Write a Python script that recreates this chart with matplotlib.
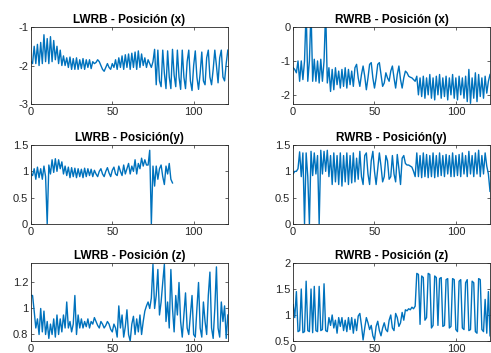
import numpy as np
import matplotlib
matplotlib.use('Agg')
import matplotlib.pyplot as plt

plt.rcParams['font.family'] = ['Liberation Sans', 'DejaVu Sans']

# ---------------- data (one sample per unit) ----------------
lwrb_x = [-1.9, -1.95, -1.5, -1.95, -1.45, -2.0, -1.4, -1.95, -1.2, -1.9,
          -1.3, -1.95, -1.25, -1.9, -1.35, -1.85, -1.5, -1.95, -1.6, -2.0,
          -1.75, -2.0, -1.8, -2.05, -1.78, -2.1, -1.82, -2.1, -1.8, -2.1,
          -1.85, -2.08, -1.82, -2.1, -1.85, -2.05, -1.85, -2.08, -1.9, -1.95,
          -1.92, -1.85, -1.9, -2.0, -2.1, -2.15, -2.05, -1.95, -2.05, -2.1,
          -1.95, -2.05, -1.85, -2.1, -1.8, -2.05, -1.75, -2.1, -1.72, -2.05,
          -1.7, -2.1, -1.68, -2.05, -1.65, -2.1, -1.62, -2.05, -1.7, -2.0,
          -1.8, -2.05, -1.85, -1.95, -2.05, -1.9, -1.58, -2.5, -1.6, -2.4,
          -2.55, -1.6, -2.2, -2.6, -1.62, -2.3, -2.6, -1.58, -2.25, -2.55,
          -1.6, -2.3, -2.62, -1.6, -2.3, -2.6, -1.9, -1.6, -2.4, -2.65,
          -2.0, -1.62, -2.3, -2.62, -2.2, -1.65, -2.4, -2.5, -1.8, -1.6,
          -2.3, -2.5, -2.1, -1.6, -2.0, -2.45, -1.8, -1.6, -2.3, -2.4,
          -1.95, -1.6]

rwrb_x = [-1.2, -1.25, -1.35, -1.0, -1.6, -1.0, -1.55, -1.0, 0.5, -1.6,
          -1.0, 0.5, -1.6, -0.95, -1.6, -1.0, -1.65, -0.95, -1.6, -1.0,
          0.5, -1.65, -1.2, -1.9, -1.25, -1.85, -1.2, -1.7, -1.3, -1.8,
          -1.25, -1.75, -1.2, -1.8, -1.25, -1.7, -1.3, -1.75, -1.2, -1.1,
          -1.5, -1.75, -1.4, -1.15, -1.45, -1.85, -1.5, -1.1, -1.05, -1.5,
          -1.8, -1.5, -1.1, -1.05, -1.4, -1.75, -1.65, -1.35, -1.5, -1.6,
          -1.3, -1.15, -1.5, -1.8, -1.4, -1.15, -1.55, -1.8, -1.5, -1.3,
          -1.35, -1.45, -1.48, -1.5, -1.55, -1.6, -1.45, -2.0, -1.5, -2.05,
          -1.45, -2.1, -1.5, -2.0, -1.4, -2.1, -1.5, -2.15, -1.45, -2.0,
          -1.4, -2.1, -1.5, -2.05, -1.45, -2.15, -1.5, -2.0, -1.4, -2.1,
          -1.5, -2.15, -1.45, -2.0, -1.5, -2.1, -1.45, -2.2, -1.25, -2.25,
          -1.5, -2.1, -1.35, -2.2, -1.4, -2.05, -1.5, -2.1, -1.45, -1.95,
          -1.6, -1.4]

lwrb_y = [0.95, 0.92, 1.05, 0.85, 1.08, 0.88, 1.05, 0.85, 1.1, 0.9,
          0.0, 1.12, 0.95, 1.22, 0.98, 1.24, 1.0, 1.22, 1.05, 1.18,
          0.95, 1.1, 0.92, 1.08, 0.88, 1.07, 0.9, 1.06, 0.88, 1.05,
          0.9, 1.04, 0.88, 1.06, 0.9, 1.05, 0.92, 1.04, 0.9, 1.02,
          0.95, 0.9, 1.0, 1.05, 0.95, 0.9, 1.0, 1.07, 0.97, 0.9,
          1.02, 1.08, 0.95, 0.92, 1.1, 1.0, 0.92, 1.12, 0.95, 1.05,
          1.15, 0.95, 1.1, 1.0, 1.22, 0.95, 1.15, 1.05, 1.25, 1.1,
          1.22, 1.12, 1.12, 1.4, 0.0, 1.1, 0.72, 1.1, 0.85, 1.05,
          1.12, 0.9, 0.75, 1.1, 0.95, 1.15, 0.85, 0.78]

rwrb_y = [0.95, 1.0, 1.0, 1.05, 1.37, 0.9, 1.35, 0.0, 1.35, 0.9,
          0.0, 1.38, 0.92, 1.35, 0.95, 1.3, 0.0, 1.4, 0.95, 1.38,
          1.0, 1.4, 0.9, 1.3, 0.75, 1.35, 0.8, 1.3, 0.75, 1.35,
          0.72, 1.3, 0.8, 1.35, 0.75, 1.3, 0.78, 1.35, 0.8, 1.25,
          0.85, 1.38, 0.9, 0.75, 1.3, 1.35, 0.95, 0.75, 1.2, 1.38,
          1.0, 0.75, 1.05, 1.35, 1.1, 0.8, 0.9, 1.3, 1.2, 0.85,
          0.9, 1.3, 0.95, 0.8, 1.32, 1.05, 0.75, 1.25, 1.3, 1.15,
          1.12, 1.12, 1.1, 1.08, 1.0, 0.9, 1.35, 0.9, 1.3, 0.88,
          1.35, 0.9, 1.32, 0.88, 1.3, 0.9, 1.35, 0.88, 1.3, 0.9,
          1.35, 0.92, 1.3, 0.9, 1.32, 0.95, 1.3, 0.9, 1.35, 0.9,
          1.3, 0.92, 1.32, 0.9, 1.35, 0.95, 1.3, 0.9, 1.38, 0.95,
          1.3, 0.9, 1.35, 0.95, 1.4, 0.9, 1.3, 0.95, 1.35, 1.1,
          0.95, 0.62]

lwrb_z = [1.1, 1.1, 0.98, 0.85, 0.92, 0.8, 1.0, 0.82, 0.98, 0.8,
          0.9, 0.77, 0.88, 0.8, 0.92, 0.78, 0.95, 0.8, 0.92, 0.82,
          0.95, 0.85, 1.05, 0.85, 0.9, 0.82, 0.88, 1.1, 0.8, 0.95,
          0.85, 0.92, 0.85, 0.9, 0.86, 0.92, 0.85, 0.9, 0.88, 0.93,
          0.9, 0.87, 0.85, 0.9, 0.88, 0.85, 0.87, 0.9, 0.88, 0.84,
          0.82, 0.88, 0.85, 0.78, 1.02, 0.85, 0.95, 0.78, 0.86, 0.99,
          0.8, 0.75, 0.88, 0.94, 0.8, 0.92, 0.82, 0.95, 0.8, 0.9,
          0.98, 1.02, 1.05, 1.0, 1.08, 1.34, 1.0, 1.1, 1.3, 0.95,
          1.05, 1.2, 1.34, 0.9, 1.05, 0.85, 1.3, 1.0, 0.82, 1.1,
          0.95, 1.2, 0.9, 0.78, 0.95, 1.12, 0.85, 0.8, 0.95, 1.1,
          0.8, 0.78, 1.0, 1.2, 0.85, 0.78, 1.05, 0.9, 0.8, 1.1,
          1.28, 0.85, 0.77, 1.0, 1.32, 0.85, 0.78, 1.05, 0.9, 1.02,
          0.77, 0.95]

rwrb_z = [1.2, 0.95, 1.45, 0.68, 0.7, 1.5, 0.66, 0.68, 1.65, 0.7,
          0.68, 1.5, 0.66, 1.55, 0.7, 0.68, 1.55, 0.7, 0.72, 1.6,
          0.7, 0.68, 0.95, 0.8, 1.0, 0.75, 0.9, 0.65, 0.95, 0.78,
          0.95, 0.7, 0.9, 0.68, 0.95, 0.72, 0.95, 0.65, 0.92, 0.7,
          0.98, 1.03, 0.8, 0.52, 0.75, 0.95, 0.85, 0.72, 0.8, 0.6,
          0.52, 0.78, 0.88, 0.7, 0.6, 0.75, 0.85, 0.72, 0.68, 0.9,
          1.0, 0.75, 0.7, 1.03, 0.95, 0.78, 0.85, 1.05, 0.9, 1.1,
          1.08, 1.12, 1.1, 1.15, 1.12, 1.17, 1.8, 1.78, 0.82, 1.75,
          1.72, 0.9, 0.95, 1.8, 1.78, 0.75, 0.8, 1.75, 1.72, 0.8,
          1.7, 1.72, 0.78, 0.8, 1.68, 1.7, 0.75, 0.78, 1.7, 1.68,
          0.72, 0.68, 1.65, 1.68, 0.75, 0.72, 1.62, 1.68, 0.7, 0.72,
          1.65, 1.62, 0.68, 0.65, 1.7, 1.68, 0.72, 0.68, 1.3, 0.65,
          1.45, 0.6]

titles = ['LWRB - Posición (x)', 'RWRB - Posición (x)',
          'LWRB - Posición(y)', 'RWRB - Posición(y)',
          'LWRB - Posición (z)', 'RWRB - Posición (z)']
series = [lwrb_x, rwrb_x, lwrb_y, rwrb_y, lwrb_z, rwrb_z]
ylims = [(-3, -1), (-2.27, 0), (0, 1.5), (0, 1.5), (0.75, 1.35), (0.5, 2)]
yticks = [[-3, -2, -1], [-2, -1, 0], [0, 0.5, 1, 1.5], [0, 0.5, 1, 1.5],
          [0.8, 1, 1.2], [0.5, 1, 1.5, 2]]

# axes boxes in figure fractions (left, bottom, width, height)
lefts = [0.063, 0.597]
rows = [(0.7054, 0.218), (0.3654, 0.2238), (0.034, 0.2210)]

fig = plt.figure(figsize=(4.91, 3.53), dpi=100)

for i, (ys, title) in enumerate(zip(series, titles)):
    bottom, height = rows[i // 2]
    ax = fig.add_axes([lefts[i % 2], bottom, 0.401, height])
    ax.plot(np.arange(len(ys)), ys, color='#0072BD', linewidth=1.0)

    ax.set_xlim(0, 121)
    ax.set_ylim(*ylims[i])
    ax.set_xticks([0, 50, 100])
    ax.set_yticks(yticks[i])
    ax.set_yticklabels(['%g' % v for v in yticks[i]])
    ax.set_title(title, fontsize=8.5, fontweight='bold', pad=3)

    # matlab-ish box
    ax.tick_params(direction='in', length=2.5, width=0.5, labelsize=8,
                   colors='#262626', top=True, right=True, pad=2)
    for s in ax.spines.values():
        s.set_color('#262626')
        s.set_linewidth(0.6)

plt.savefig('out.png', dpi=100)
